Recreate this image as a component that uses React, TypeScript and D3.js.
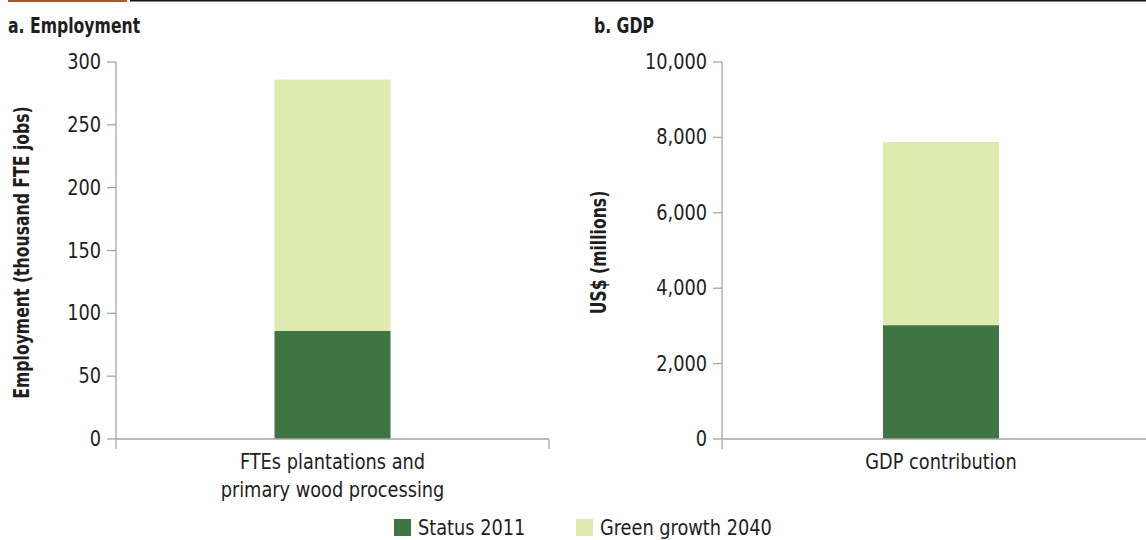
import React, { useRef, useEffect } from 'react';
import * as d3 from 'd3';

const series = ['Status 2011', 'Green growth 2040'];
const colors = ['#3f7443', '#dfeab0'];

// panel a
const empCategories = ['FTEs plantations and\nprimary wood processing'];
const empStatus = [86];
const empGrowth = [200];
const empTicks = [0, 50, 100, 150, 200, 250, 300];

// panel b
const gdpCategories = ['GDP contribution'];
const gdpStatus = [3020];
const gdpGrowth = [4860];
const gdpTicks = [0, 2000, 4000, 6000, 8000, 10000];

const FONT = '"DejaVu Sans Condensed", "Liberation Sans Narrow", sans-serif';
const TEXT = '#1e1e1e';
const AXIS = '#a6a6a6';
const SX = 0.94; // squeeze regular text a bit
const SXB = 0.83; // and bold text more

const App: React.FC = () => {
  const svgRef = useRef<SVGSVGElement | null>(null);

  useEffect(() => {
    const svg = d3.select(svgRef.current!);
    svg.selectAll('*').remove();

    const label = (
      parent: d3.Selection<any, unknown, null, undefined>,
      x: number,
      y: number,
      s: string,
      anchor = 'start',
      bold = false,
      rotate = 0
    ) =>
      parent
        .append('text')
        .attr('transform', `translate(${x},${y}) rotate(${rotate}) scale(${bold ? SXB : SX},1)`)
        .attr('text-anchor', anchor)
        .attr('font-family', FONT)
        .attr('font-weight', bold ? 'bold' : 'normal')
        .attr('font-size', 21)
        .attr('fill', TEXT)
        .text(s);

    // top rules
    svg.append('rect').attr('x', 8).attr('y', 0).attr('width', 119).attr('height', 2).attr('fill', '#a5582a');
    svg.append('rect').attr('x', 130).attr('y', 0).attr('width', 1016).attr('height', 1.5).attr('fill', '#111');

    const drawPanel = (
      left: number,
      right: number,
      title: string,
      titleX: number,
      yLabel: string,
      yLabelX: number,
      cats: string[],
      status: number[],
      growth: number[],
      ticks: number[],
      max: number,
      fmt: (n: number) => string
    ) => {
      const top = 62;
      const bottom = 439;
      const y = d3.scaleLinear().domain([0, max]).range([bottom, top]);
      const x = d3.scaleBand().domain(cats).range([left, right]);
      const barW = 116;

      const g = svg.append('g');

      label(g, titleX, 33, title, 'start', true);

      // bars
      cats.forEach((c, i) => {
        const cx = x(c)! + x.bandwidth() / 2;
        g.append('rect')
          .attr('x', cx - barW / 2)
          .attr('width', barW)
          .attr('y', y(status[i]))
          .attr('height', y(0) - y(status[i]))
          .attr('fill', colors[0]);
        g.append('rect')
          .attr('x', cx - barW / 2)
          .attr('width', barW)
          .attr('y', y(status[i] + growth[i]))
          .attr('height', y(status[i]) - y(status[i] + growth[i]))
          .attr('fill', colors[1]);

        c.split('\n').forEach((ln, j) => {
          label(g, cx, 469 + j * 28, ln, 'middle');
        });
      });

      // y axis
      g.append('line')
        .attr('x1', left).attr('x2', left)
        .attr('y1', top).attr('y2', bottom + 10)
        .attr('stroke', AXIS).attr('stroke-width', 1.3);
      ticks.forEach((t) => {
        g.append('line')
          .attr('x1', left - 9).attr('x2', left)
          .attr('y1', y(t)).attr('y2', y(t))
          .attr('stroke', AXIS).attr('stroke-width', 1.3);
        label(g, left - 15, y(t) + 7, fmt(t), 'end');
      });

      // x axis
      g.append('line')
        .attr('x1', left).attr('x2', right)
        .attr('y1', bottom).attr('y2', bottom)
        .attr('stroke', AXIS).attr('stroke-width', 1.3);
      g.append('line')
        .attr('x1', right).attr('x2', right)
        .attr('y1', bottom).attr('y2', bottom + 10)
        .attr('stroke', AXIS).attr('stroke-width', 1.3);

      label(g, yLabelX, (top + bottom) / 2 + 2, yLabel, 'middle', true, -90);
    };

    drawPanel(116, 549, 'a. Employment', 8, 'Employment (thousand FTE jobs)', 29,
      empCategories, empStatus, empGrowth, empTicks, 300, d3.format(','));
    drawPanel(722, 1160, 'b. GDP', 594, 'US$ (millions)', 606,
      gdpCategories, gdpStatus, gdpGrowth, gdpTicks, 10000, d3.format(','));

    // legend
    const legX = [394, 576];
    series.forEach((s, i) => {
      svg.append('rect')
        .attr('x', legX[i]).attr('y', 519)
        .attr('width', 17).attr('height', 17)
        .attr('fill', colors[i]);
      label(svg as any, legX[i] + 24, 535, s);
    });
  }, []);

  return (
    <svg
      ref={svgRef}
      width={1146}
      height={540}
      style={{ position: 'absolute', left: 0, top: 0, background: '#fff' }}
    />
  );
};

export default App;
